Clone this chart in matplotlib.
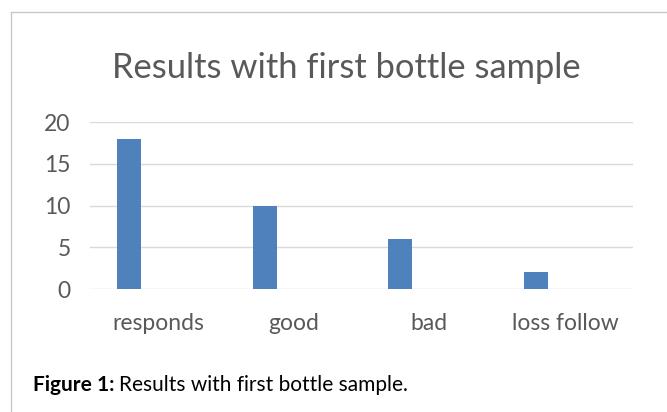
import matplotlib
matplotlib.use('Agg')
import matplotlib.pyplot as plt
from matplotlib.lines import Line2D

categories = ['responds', 'good', 'bad', 'loss follow']
values = [18, 10, 6, 2]
yticks = [0, 5, 10, 15, 20]

plt.rcParams['font.family'] = ['Lato', 'DejaVu Sans']

fig = plt.figure(figsize=(6.67, 4.12), dpi=100)
ax = fig.add_axes([90 / 667, 1 - 289 / 412, (633 - 90) / 667, (289 - 122) / 412])

# bars sit left of the category centre, like a two-series cluster with one empty
xs = [i - 0.214 for i in range(len(categories))]
ax.bar(xs, values, width=0.177, color='#4F81BD', zorder=3)

ax.set_xlim(-0.5, len(categories) - 0.5)
ax.set_ylim(0, 20)
ax.set_yticks(yticks)
ax.set_xticks(range(len(categories)))
ax.set_xticklabels(categories)
ax.grid(axis='y', color='#d9d9d9', linewidth=1, zorder=0)
for s in ax.spines.values():
    s.set_visible(False)
ax.tick_params(length=0, labelsize=16.5, labelcolor='#595959')
ax.tick_params(axis='y', pad=14)
ax.tick_params(axis='x', pad=17)

fig.text(346 / 667, 1 - 68 / 412, 'Results with first bottle sample',
         ha='center', va='center', fontsize=24.8, color='#595959')

# frame lines around the chart area
fig.add_artist(Line2D([10.5 / 667, 10.5 / 667], [0, 1 - 11.5 / 412],
                      transform=fig.transFigure, color='#c8c8c8', linewidth=1))
fig.add_artist(Line2D([10.5 / 667, 1], [1 - 11.5 / 412, 1 - 11.5 / 412],
                      transform=fig.transFigure, color='#c8c8c8', linewidth=1))

t1 = fig.text(33 / 667, 1 - 385 / 412, 'Figure 1:', fontsize=15,
              fontweight='bold', va='center', color='black')
ax.annotate('Results with first bottle sample.', xy=(1, 0.5), xycoords=t1,
            xytext=(3, 0), textcoords='offset points', va='center',
            fontsize=15, color='black', annotation_clip=False)

fig.savefig('out.png', dpi=100)
